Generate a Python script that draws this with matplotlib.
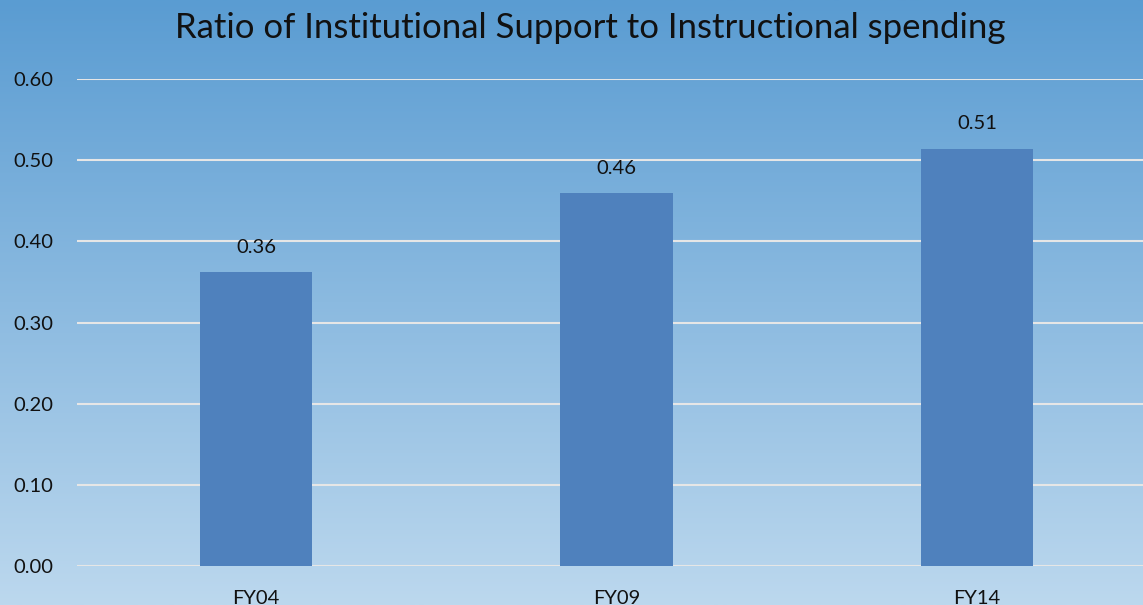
import matplotlib.pyplot as plt
import numpy as np
from matplotlib.colors import LinearSegmentedColormap

plt.rcParams['font.family'] = ['Lato', 'DejaVu Sans']

# data
years = ['FY04', 'FY09', 'FY14']
ratio = [0.362, 0.459, 0.514]
yticks = [0.0, 0.1, 0.2, 0.3, 0.4, 0.5, 0.6]

fig = plt.figure(figsize=(11.43, 6.05), dpi=100)

# gradient background over the whole figure
bg = fig.add_axes([0, 0, 1, 1], zorder=0)
cmap = LinearSegmentedColormap.from_list('bg', ['#5A9CD2', '#BCD8EE'])
grad = np.linspace(0, 1, 256).reshape(-1, 1)
bg.imshow(grad, aspect='auto', cmap=cmap, extent=[0, 1, 0, 1])
bg.set_axis_off()

ax = fig.add_axes([77 / 1143, 39 / 605, 1 - 77 / 1143, 487 / 605], zorder=1)
ax.patch.set_alpha(0)

x = np.arange(len(years))
bars = ax.bar(x, ratio, width=0.313, color='#4F81BD', zorder=3)

for xi, v in zip(x, ratio):
    ax.annotate(f'{v:.2f}', (xi, v), xytext=(0, 12), textcoords='offset points',
                ha='center', va='bottom', fontsize=14.5, color='#111111')

ax.set_ylim(0, 0.6)
ax.set_xlim(-0.4965, 2.4605)
ax.set_yticks(yticks)
ax.set_yticklabels([f'{t:.2f}' for t in yticks])
ax.set_xticks(x)
ax.set_xticklabels(years)
ax.tick_params(axis='both', length=0, labelsize=14.5, labelcolor='#111111')
ax.tick_params(axis='y', pad=17)
ax.tick_params(axis='x', pad=17)
ax.grid(axis='y', color='#E6E6E6', linewidth=1.5, zorder=1)
for s in ax.spines.values():
    s.set_visible(False)

fig.text(0.516, 0.953, 'Ratio of Institutional Support to Instructional spending',
         ha='center', va='center', fontsize=25, color='#111111')

fig.savefig('out.png', dpi=100)
